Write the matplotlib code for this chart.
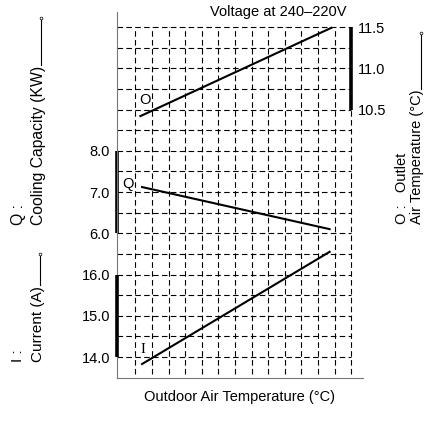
import matplotlib
matplotlib.use("Agg")
import matplotlib.pyplot as plt
from matplotlib.lines import Line2D

plt.rcParams['font.family'] = ['Liberation Sans', 'DejaVu Sans']
FS = 10.5

# data
outdoor_temp_O = [29.3, 40.8]
outlet_temp = [10.42, 11.49]
outdoor_temp_Q = [29.4, 40.7]
cooling_cap = [7.12, 6.10]
outdoor_temp_I = [29.4, 40.7]
current = [13.83, 16.55]

x_ticks = [30, 35, 40]
q_ticks = [6.0, 7.0, 8.0]
i_ticks = [14.0, 15.0, 16.0]
o_ticks = [10.5, 11.0, 11.5]
x_grid = list(range(29, 43))
q_grid = [11.0 - 0.5 * k for k in range(17)]

W, H = 429, 433
fig = plt.figure(figsize=(W / 100, H / 100), dpi=100)

def fx(px):
    return px / W

def fy(py):
    return 1 - py / H

# axes box in pixels: x 117..363, y 12..378
ax = fig.add_axes([fx(117), fy(378), fx(363) - fx(117), fy(12) - fy(378)])
ax.set_xlim(27.89, 42.71)
ax.set_ylim(2.491, 11.364)           # cooling capacity scale
ax_o = ax.twinx()
ax_o.set_ylim(7.2455, 11.682)        # outlet temp scale
ax_i = ax.twinx()
ax_i.set_ylim(13.491, 22.364)        # current scale

for a in (ax, ax_o, ax_i):
    for s in a.spines.values():
        s.set_visible(False)
    a.tick_params(length=0, labelsize=FS)
ax.spines['left'].set_visible(True)
ax.spines['bottom'].set_visible(True)
ax.spines['left'].set_color('#777777')
ax.spines['bottom'].set_color('#777777')

# dashed grid, limited extents
dash = (0, (5, 3))
ax.hlines(q_grid, 27.89, 42, colors='k', linestyles=[dash], lw=0.8)
ax.vlines(x_grid, 2.6, 11.0, colors='k', linestyles=[dash], lw=0.8)

# ticks
ax.set_xticks(x_ticks)
ax.tick_params(axis='x', pad=6)
ax.set_yticks(q_ticks)
ax.set_yticklabels([f"{v:.1f}" for v in q_ticks])
ax.tick_params(axis='y', pad=5)
ax_i.yaxis.tick_left()
ax_i.set_yticks(i_ticks)
ax_i.set_yticklabels([f"{v:.1f}" for v in i_ticks])
ax_i.tick_params(axis='y', pad=5, length=0)
ax_i.set_xticks([])
ax_o.set_yticks(o_ticks)
ax_o.set_yticklabels([f"{v:.1f}" for v in o_ticks])
ax_o.tick_params(axis='y', pad=-4)

# thick scale bars
ax.plot([27.89, 27.89], [q_ticks[0], q_ticks[-1]], color='k', lw=2.6, clip_on=False, solid_capstyle='butt')
ax_i.plot([27.89, 27.89], [i_ticks[0], i_ticks[-1]], color='k', lw=2.6, clip_on=False, solid_capstyle='butt')
ax_o.plot([42, 42], [o_ticks[0], o_ticks[-1]], color='k', lw=2.6, clip_on=False, solid_capstyle='butt')

# series
ax_o.plot(outdoor_temp_O, outlet_temp, color='k', lw=1.5)
ax.plot(outdoor_temp_Q, cooling_cap, color='k', lw=1.5)
ax_i.plot(outdoor_temp_I, current, color='k', lw=1.5)

ax_o.text(29.6, 10.615, "O", fontsize=FS, ha='center', va='center')
ax.text(28.55, 7.19, "Q", fontsize=FS, ha='center', va='center')
ax_i.text(29.46, 14.17, "I", fontsize=FS, ha='center', va='center', family='Liberation Serif')

ax.set_xlabel("Outdoor Air Temperature (\u00b0C)", fontsize=FS, labelpad=9)

fig.text(fx(278), fy(12), "Voltage at 240\u2013220V", fontsize=FS, ha='center', va='center')

# side labels with leader lines joined to the end of the text
renderer = fig.canvas.get_renderer()

def side_label(x1, x2, ybot, t1, t2, line_x, line_top, fs=FS):
    fig.text(fx(x1), fy(ybot), t1, rotation=90, fontsize=fs, ha='center', va='bottom')
    t = fig.text(fx(x2), fy(ybot), t2, rotation=90, fontsize=fs, ha='center', va='bottom')
    bb = t.get_window_extent(renderer=renderer)
    line_bot = H - bb.y1 - 1
    fig.add_artist(Line2D([fx(line_x), fx(line_x)], [fy(line_bot), fy(line_top)],
                          color='k', lw=0.8))
    fig.add_artist(Line2D([fx(line_x)], [fy(line_top)], marker='o', ms=2,
                          mfc='white', mec='k', mew=0.5))

side_label(18, 39, 225, "Q :", "Cooling Capacity (KW)", 41, 18, fs=11.3)
side_label(18, 38, 362, "I :", "Current (A)", 39.5, 254, fs=11)
side_label(402, 417, 224, "O :   Outlet", "Air Temperature (\u00b0C)", 421, 33)

fig.savefig("out.png", dpi=100)
